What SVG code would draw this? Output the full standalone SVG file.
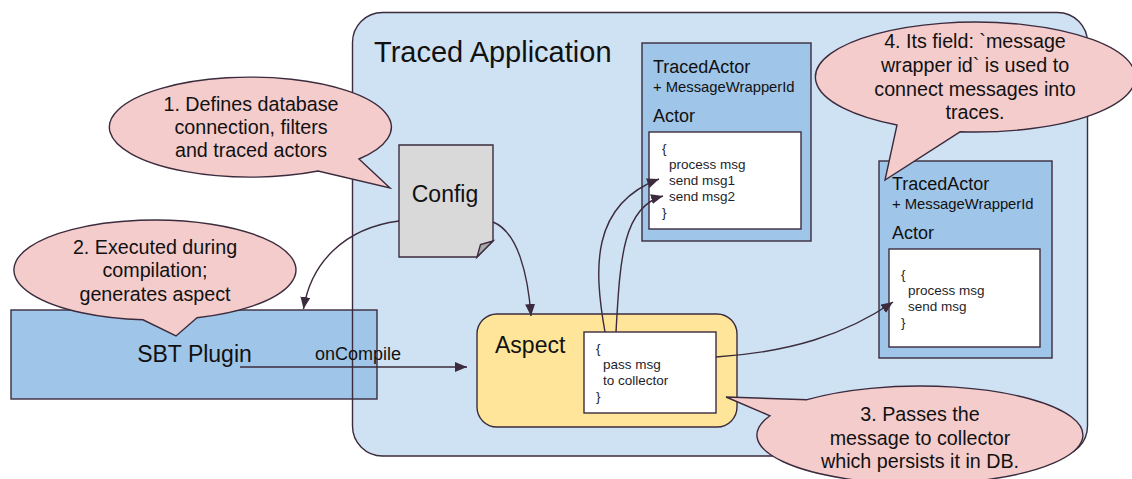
<svg xmlns="http://www.w3.org/2000/svg" width="1132" height="479" viewBox="0 0 1132 479">
  <defs>
    <style>
      text { font-family: "Liberation Sans", Arial, sans-serif; fill: #111; }
      .box { stroke: #3b2b3d; stroke-width: 1.4; }
      .app { fill: #cfe2f3; }
      .blue { fill: #9fc5e8; }
      .code { fill: #ffffff; }
      .aspect { fill: #ffe599; }
      .doc { fill: #d9d9d9; }
      .fold { fill: #a9a9a9; }
      .callout { fill: #f4cccc; stroke: #3b2b3d; stroke-width: 1.4; }
      .note { font-size: 19.7px; text-anchor: middle; }
      .big { font-size: 23px; }
      .head { font-size: 18px; }
      .field { font-size: 14.8px; }
      .src { font-size: 13.5px; fill: #1e1e2a; }
      .wire { fill: none; stroke: #3b2b3d; stroke-width: 1.4; }
    </style>
    <marker id="arrow" viewBox="0 0 12 10" refX="12" refY="5" markerWidth="12" markerHeight="10" markerUnits="userSpaceOnUse" orient="auto">
      <path d="M0,0 L12,5 L0,10 Z" fill="#3b2b3d"/>
    </marker>
  </defs>

  <!-- application container -->
  <g id="traced-application">
    <rect class="box app" x="352.5" y="12.5" width="735" height="443.5" rx="30" ry="30"/>
    <text x="374" y="62" style="font-size:29px">Traced Application</text>
  </g>

  <!-- build plugin -->
  <g id="sbt-plugin">
    <rect class="box blue" x="11" y="310" width="366" height="89"/>
    <line x1="352.5" y1="310" x2="352.5" y2="399" stroke="#3b2b3d" stroke-width="1.4"/>
    <text class="big" x="194.5" y="362" text-anchor="middle">SBT Plugin</text>
  </g>

  <!-- config document -->
  <g id="config">
    <path class="box doc" d="M399,145 L493,145 L493,241 L477,257 L399,257 Z"/>
    <path class="box fold" d="M493,241 L477,257 L480.5,244.5 Z"/>
    <text class="big" x="445" y="202" text-anchor="middle">Config</text>
  </g>

  <!-- aspect -->
  <g id="aspect">
    <rect class="box aspect" x="477" y="314" width="260" height="113" rx="20" ry="20"/>
    <text class="big" x="495" y="353">Aspect</text>
    <rect class="box code" x="584" y="332" width="132" height="81"/>
    <text class="src" x="596" y="353">{</text>
    <text class="src" x="603" y="369">pass msg</text>
    <text class="src" x="603" y="385">to collector</text>
    <text class="src" x="596" y="401">}</text>
  </g>

  <!-- first traced actor -->
  <g id="traced-actor-1">
    <rect class="box blue" x="642" y="43" width="169" height="198"/>
    <text class="head" x="653" y="73">TracedActor</text>
    <text class="field" x="653" y="92">+ MessageWrapperId</text>
    <text class="head" x="653" y="122">Actor</text>
    <rect class="box code" x="649" y="132" width="152" height="97"/>
    <text class="src" x="662" y="153">{</text>
    <text class="src" x="669" y="169">process msg</text>
    <text class="src" x="669" y="185">send msg1</text>
    <text class="src" x="669" y="201">send msg2</text>
    <text class="src" x="662" y="217">}</text>
  </g>

  <!-- second traced actor -->
  <g id="traced-actor-2">
    <rect class="box blue" x="879" y="161" width="173" height="197"/>
    <text class="head" x="892" y="190">TracedActor</text>
    <text class="field" x="892" y="209">+ MessageWrapperId</text>
    <text class="head" x="892" y="239">Actor</text>
    <rect class="box code" x="889" y="249" width="151" height="98"/>
    <text class="src" x="901" y="279">{</text>
    <text class="src" x="908" y="295">process msg</text>
    <text class="src" x="908" y="311">send msg</text>
    <text class="src" x="901" y="327">}</text>
  </g>

  <!-- connectors -->
  <g id="connectors">
    <path class="wire" d="M240,367 L467,367" marker-end="url(#arrow)"/>
    <text x="315" y="360" style="font-size:18px">onCompile</text>
    <path class="wire" d="M399,221 C345,228 311,262 303.5,309" marker-end="url(#arrow)"/>
    <path class="wire" d="M493,222 C518,232 528,275 531,316" marker-end="url(#arrow)"/>
    <path class="wire" d="M605,332 C594,270 590,205 659,179" marker-end="url(#arrow)"/>
    <path class="wire" d="M616,332 C620,262 622,207 663,196" marker-end="url(#arrow)"/>
    <path class="wire" d="M716,357 C790,352 845,335 893,302" marker-end="url(#arrow)"/>
  </g>

  <!-- speech bubbles -->
  <g id="note-1">
    <path class="callout" d="M359,159 L390,188 L318,171 A141,50 0 1,1 359,159 Z"/>
    <text class="note" x="251" y="111">1. Defines database</text>
    <text class="note" x="251" y="134">connection, filters</text>
    <text class="note" x="251" y="157">and traced actors</text>
  </g>

  <g id="note-2">
    <path class="callout" d="M197,317.7 L176,336 L143,319.8 A141,50 0 1,1 197,317.7 Z"/>
    <text class="note" x="155" y="254">2. Executed during</text>
    <text class="note" x="155" y="277">compilation;</text>
    <text class="note" x="155" y="301">generates aspect</text>
  </g>

  <g id="note-3">
    <path class="callout" d="M807,399.7 L726,397 L770,415.8 A163,49 0 1,0 807,399.7 Z"/>
    <text class="note" x="920" y="421">3. Passes the</text>
    <text class="note" x="920" y="445">message to collector</text>
    <text class="note" x="920" y="468">which persists it in DB.</text>
  </g>

  <g id="note-4">
    <path class="callout" d="M960,131.8 L885,180 L897,125 A160,55 0 1,1 960,131.8 Z"/>
    <text class="note" x="975" y="48">4. Its field: `message</text>
    <text class="note" x="975" y="72">wrapper id` is used to</text>
    <text class="note" x="975" y="96">connect messages into</text>
    <text class="note" x="975" y="119">traces.</text>
  </g>
</svg>
